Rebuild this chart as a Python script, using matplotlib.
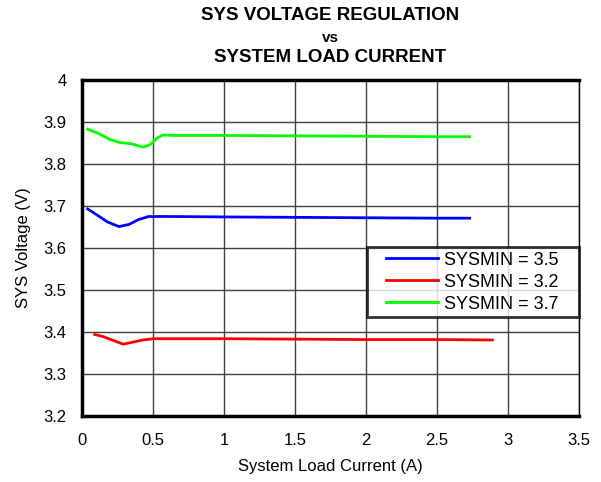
import matplotlib
matplotlib.use('Agg')
import matplotlib.pyplot as plt
from matplotlib.legend_handler import HandlerLine2D
import numpy as np

plt.rcParams['font.family'] = ['Liberation Sans', 'DejaVu Sans']

# load current (A) and sys voltage (V)
i_35 = [0.04, 0.10, 0.18, 0.26, 0.33, 0.40, 0.47, 0.60, 1.0, 1.5, 2.0, 2.5, 2.73]
v_35 = [3.693, 3.680, 3.662, 3.651, 3.656, 3.668, 3.675, 3.675, 3.674, 3.673, 3.672, 3.671, 3.671]

i_32 = [0.09, 0.15, 0.22, 0.29, 0.36, 0.43, 0.50, 0.70, 1.0, 1.5, 2.0, 2.5, 2.89]
v_32 = [3.394, 3.389, 3.380, 3.371, 3.376, 3.381, 3.384, 3.384, 3.384, 3.383, 3.382, 3.382, 3.381]

i_37 = [0.04, 0.12, 0.20, 0.27, 0.35, 0.43, 0.48, 0.53, 0.57, 0.65, 1.0, 1.5, 2.0, 2.5, 2.73]
v_37 = [3.883, 3.872, 3.858, 3.851, 3.848, 3.840, 3.846, 3.862, 3.869, 3.868, 3.868, 3.867, 3.866, 3.865, 3.865]

fig = plt.figure(figsize=(6.01, 4.82), dpi=100)
ax = fig.add_axes([82/601, 1-416/482, 497/601, 336/482])

l1, = ax.plot(i_35, v_35, color='#0000ff', lw=2, label='SYSMIN = 3.5')
l2, = ax.plot(i_32, v_32, color='#ff0000', lw=2, label='SYSMIN = 3.2')
l3, = ax.plot(i_37, v_37, color='#00ff00', lw=2, label='SYSMIN = 3.7')

ax.set_xlim(0, 3.5)
ax.set_ylim(3.2, 4.0)
ax.set_xticks(np.arange(0, 3.51, 0.5))
ax.set_yticks(np.arange(3.2, 4.01, 0.1))
ax.set_xticklabels(['0', '0.5', '1', '1.5', '2', '2.5', '3', '3.5'])
ax.set_yticklabels(['3.2', '3.3', '3.4', '3.5', '3.6', '3.7', '3.8', '3.9', '4'])
ax.tick_params(axis='x', length=0, labelsize=12, pad=12)
ax.tick_params(axis='y', length=0, labelsize=12, pad=11)
ax.grid(True, color='#404040', lw=1)
for s in ax.spines.values():
    s.set_color('black')
    s.set_linewidth(1)
ax.spines['left'].set_linewidth(2.5)
ax.spines['top'].set_linewidth(2.5)
ax.spines['bottom'].set_linewidth(2.5)

ax.set_xlabel('System Load Current (A)', fontsize=12, labelpad=8)
ax.set_ylabel('SYS Voltage (V)', fontsize=12, labelpad=9)

hmap = {l: HandlerLine2D(xpad=0.78) for l in (l1, l2, l3)}
leg = ax.legend(loc='upper left', bbox_to_anchor=(285/497, 1-(313-80)/336, 212/497, 66/336),
                mode='expand', fontsize=13, frameon=True, fancybox=False, borderaxespad=0,
                handlelength=3.68, labelspacing=0.28, borderpad=0.25, handletextpad=0.33,
                handler_map=hmap)
leg.get_frame().set_edgecolor('black')
leg.get_frame().set_linewidth(2)

fig.text(330/601, 1-16/482, 'SYS VOLTAGE REGULATION', ha='center', va='center',
         fontsize=13.5, fontweight='bold')
fig.text(330/601, 1-38/482, 'vs', ha='center', va='center', fontsize=11, fontweight='bold')
fig.text(330/601, 1-57/482, 'SYSTEM LOAD CURRENT', ha='center', va='center',
         fontsize=13.5, fontweight='bold')

plt.savefig('out.png', dpi=100)
